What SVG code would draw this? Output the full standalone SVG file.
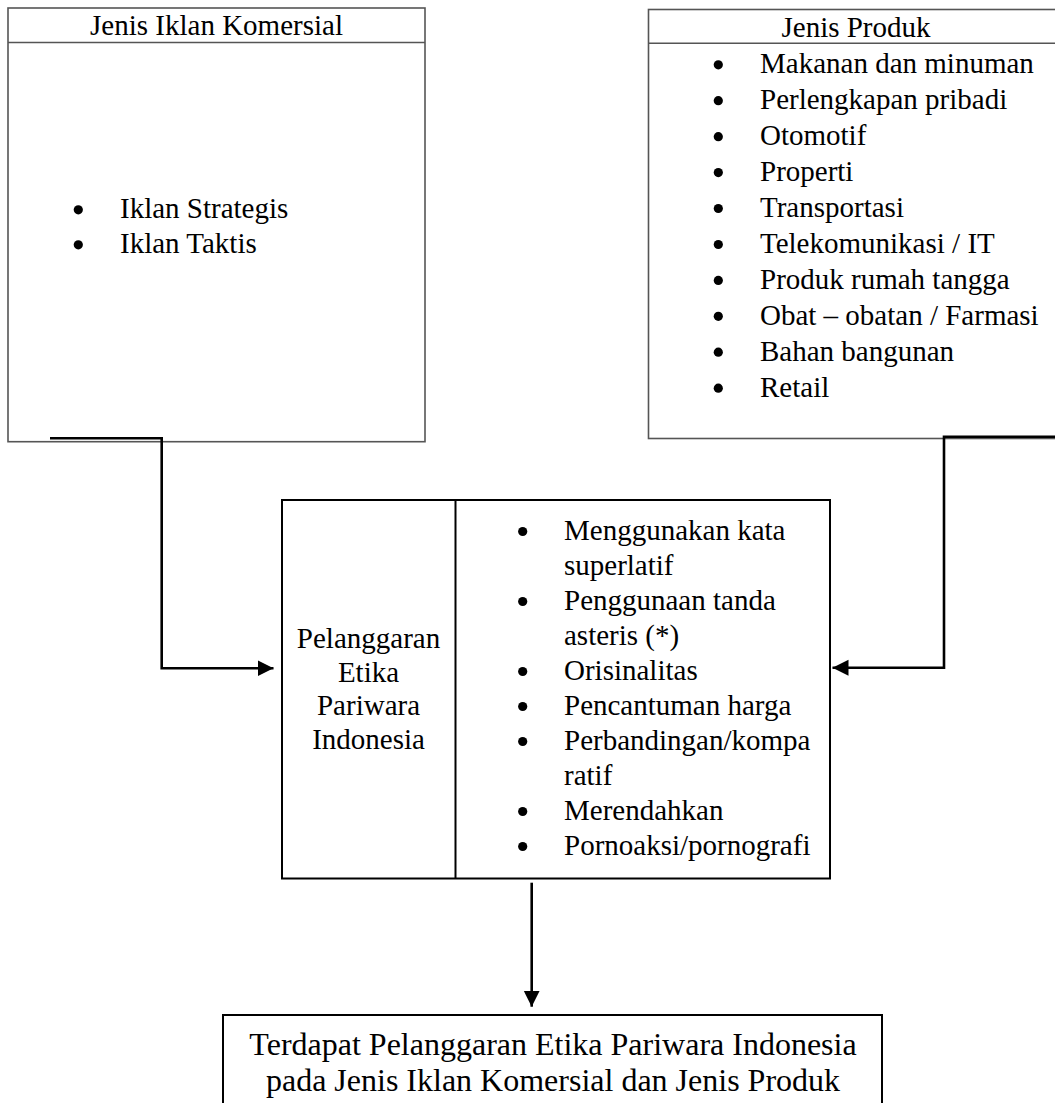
<svg xmlns="http://www.w3.org/2000/svg" width="1055" height="1103" viewBox="0 0 1055 1103">
<style>
text{font-family:"Liberation Serif","Times New Roman",serif;font-size:29px;fill:#000}
.c{text-anchor:middle}
.big{font-size:32px}
.thin{fill:none;stroke:#555;stroke-width:1.6}
.box{fill:none;stroke:#000;stroke-width:2}
.conn{fill:none;stroke:#000;stroke-width:2.6}
.dot{fill:#000}
</style>
<defs>
<marker id="arr" markerUnits="userSpaceOnUse" markerWidth="18" markerHeight="18" refX="16" refY="8" orient="auto">
<path d="M0,0 L16,8 L0,16 Z" fill="#000"/>
</marker>
</defs>
<rect width="1055" height="1103" fill="#fff"/>
<g id="node-jenis-iklan">
<rect class="thin" x="8" y="8" width="417" height="433.7"/>
<line class="thin" x1="8" y1="42.5" x2="425" y2="42.5"/>
<text class="c" x="216.5" y="35">Jenis Iklan Komersial</text>
<circle class="dot" cx="78.3" cy="209.8" r="4.6"/>
<text x="120" y="218.3">Iklan Strategis</text>
<circle class="dot" cx="78.3" cy="244.8" r="4.6"/>
<text x="120" y="253.3">Iklan Taktis</text>
</g>
<g id="node-jenis-produk">
<rect class="thin" x="648.5" y="9.5" width="420" height="429"/>
<line class="thin" x1="648.5" y1="43.3" x2="1068" y2="43.3"/>
<text class="c" x="856" y="37">Jenis Produk</text>
<g>
<circle class="dot" cx="718.3" cy="64.8" r="4.6"/><text x="760" y="73.3">Makanan dan minuman</text>
<circle class="dot" cx="718.3" cy="100.7" r="4.6"/><text x="760" y="109.2">Perlengkapan pribadi</text>
<circle class="dot" cx="718.3" cy="136.7" r="4.6"/><text x="760" y="145.2">Otomotif</text>
<circle class="dot" cx="718.3" cy="172.6" r="4.6"/><text x="760" y="181.1">Properti</text>
<circle class="dot" cx="718.3" cy="208.5" r="4.6"/><text x="760" y="217">Transportasi</text>
<circle class="dot" cx="718.3" cy="244.5" r="4.6"/><text x="760" y="253">Telekomunikasi / IT</text>
<circle class="dot" cx="718.3" cy="280.4" r="4.6"/><text x="760" y="288.9">Produk rumah tangga</text>
<circle class="dot" cx="718.3" cy="316.3" r="4.6"/><text x="760" y="324.8">Obat – obatan / Farmasi</text>
<circle class="dot" cx="718.3" cy="352.2" r="4.6"/><text x="760" y="360.7">Bahan bangunan</text>
<circle class="dot" cx="718.3" cy="388.2" r="4.6"/><text x="760" y="396.7">Retail</text>
</g>
</g>
<g id="node-pelanggaran">
<rect class="box" x="282" y="500" width="548" height="378.5"/>
<line class="box" x1="455.5" y1="500" x2="455.5" y2="878.5"/>
<text class="c" x="368.5" y="648.3">Pelanggaran</text>
<text class="c" x="368.5" y="681.8">Etika</text>
<text class="c" x="368.5" y="715.3">Pariwara</text>
<text class="c" x="368.5" y="749.3">Indonesia</text>
<circle class="dot" cx="522.7" cy="531.5" r="4.6"/><text x="564" y="540">Menggunakan kata</text>
<text x="564" y="575">superlatif</text>
<circle class="dot" cx="522.7" cy="601.5" r="4.6"/><text x="564" y="610">Penggunaan tanda</text>
<text x="564" y="645">asteris (*)</text>
<circle class="dot" cx="522.7" cy="671.5" r="4.6"/><text x="564" y="680">Orisinalitas</text>
<circle class="dot" cx="522.7" cy="706.5" r="4.6"/><text x="564" y="715">Pencantuman harga</text>
<circle class="dot" cx="522.7" cy="741.5" r="4.6"/><text x="564" y="750">Perbandingan/kompa</text>
<text x="564" y="785">ratif</text>
<circle class="dot" cx="522.7" cy="811.5" r="4.6"/><text x="564" y="820">Merendahkan</text>
<circle class="dot" cx="522.7" cy="846.5" r="4.6"/><text x="564" y="855">Pornoaksi/pornografi</text>
</g>
<g id="node-kesimpulan">
<rect class="box" x="223" y="1015" width="659" height="130"/>
<text class="c big" x="553" y="1054.5">Terdapat Pelanggaran Etika Pariwara Indonesia</text>
<text class="c big" x="553" y="1090.5">pada Jenis Iklan Komersial dan Jenis Produk</text>
</g>
<g id="connectors">
<path class="conn" d="M50,438.3 H161.7 V668.3 H273.5" marker-end="url(#arr)"/>
<path class="conn" d="M1056,436.7 H944 V667.7 H832.5" marker-end="url(#arr)"/>
<path class="conn" d="M531.7,882.7 V1006.7" marker-end="url(#arr)"/>
</g>
</svg>
